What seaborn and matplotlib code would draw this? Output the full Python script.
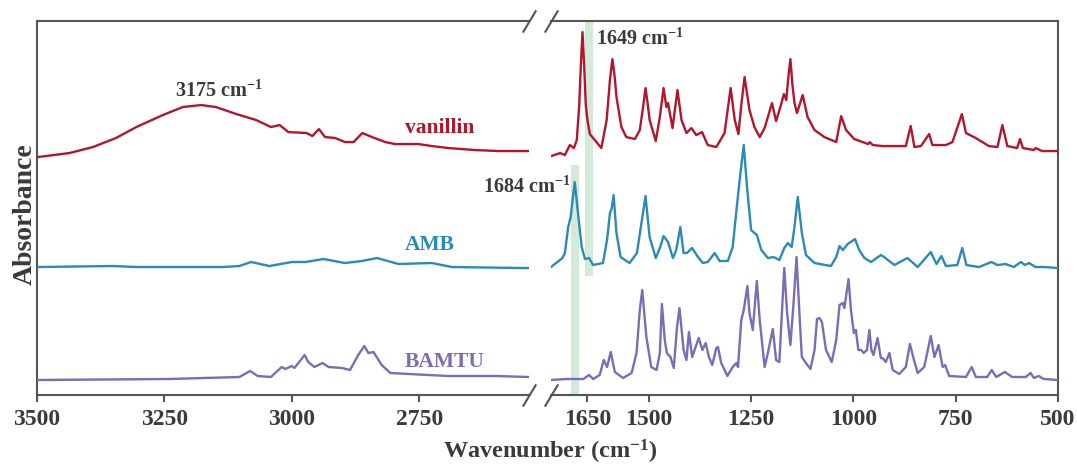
import matplotlib
matplotlib.use("Agg")
import matplotlib.pyplot as plt
import numpy as np
import pandas as pd
import seaborn as sns

# ---------------- data ----------------
samples = ["vanillin", "AMB", "BAMTU"]
colors = {"vanillin": "#B3162C", "AMB": "#2A8BB6", "BAMTU": "#7B6CB8"}
offsets = {"vanillin": 2.45, "AMB": 1.28, "BAMTU": 0.15}

vanillin_wn = [3498, 3436, 3390, 3345, 3305, 3253, 3214, 3178, 3149, 3109, 3083, 3070,
               3041, 3024, 3007, 2971, 2960, 2947, 2935, 2915, 2896, 2879, 2862, 2843,
               2817, 2798, 2752, 2726, 2693, 2641, 2595, 2536,
               1738, 1717, 1705, 1693, 1683, 1676, 1670, 1666, 1662, 1658, 1654, 1650,
               1644, 1632, 1616, 1603, 1595, 1589, 1583, 1579, 1567, 1555, 1534, 1522, 1514, 1508, 1503, 1498,
               1483, 1473, 1464, 1457, 1453, 1442, 1430, 1420, 1408, 1396, 1384, 1370,
               1356, 1335, 1315, 1300, 1290, 1281, 1274, 1266, 1254, 1242, 1229, 1217, 1199,
               1189, 1177, 1170, 1164, 1159, 1154, 1149, 1144, 1138, 1124, 1112, 1095, 1071, 1042,
               1030, 1018, 998, 964, 960, 953, 929, 872, 860, 851, 835, 815, 807, 774,
               758, 735, 725, 701, 669, 648, 636, 624, 600, 593, 586, 559, 555, 539, 500]
vanillin_abs = [-0.07, -0.03, 0.03, 0.12, 0.23, 0.35, 0.43, 0.45, 0.43, 0.36, 0.32, 0.30,
                0.23, 0.25, 0.18, 0.17, 0.14, 0.21, 0.13, 0.12, 0.08, 0.08, 0.17, 0.13,
                0.08, 0.06, 0.06, 0.04, 0.02, 0.00, -0.01, -0.01,
                -0.06, -0.03, -0.05, 0.05, 0.02, 0.10, 0.45, 0.85, 1.18, 0.85, 0.45, 0.30,
                0.16, 0.10, 0.02, 0.30, 0.70, 0.91, 0.72, 0.53, 0.23, 0.13, 0.11, 0.20, 0.43, 0.62, 0.47, 0.30,
                0.09, 0.33, 0.62, 0.43, 0.47, 0.22, 0.60, 0.30, 0.17, 0.22, 0.15, 0.18,
                0.05, 0.03, 0.17, 0.62, 0.30, 0.16, 0.45, 0.73, 0.40, 0.23, 0.13, 0.22, 0.47,
                0.29, 0.45, 0.56, 0.50, 0.73, 0.91, 0.65, 0.47, 0.37, 0.55, 0.33, 0.20, 0.13, 0.08,
                0.34, 0.20, 0.11, 0.06, 0.08, 0.05, 0.04, 0.04, 0.24, 0.03, 0.04, 0.16, 0.05, 0.05,
                0.08, 0.36, 0.17, 0.12, 0.04, 0.03, 0.25, 0.04, 0.02, 0.11, 0.02, 0.00, 0.02, -0.01, -0.01]

amb_wn = [3498, 3351, 3305, 3135, 3103, 3080, 3044, 3033, 3000, 2974, 2938, 2896, 2863,
          2833, 2791, 2726, 2686, 2552, 2536,
          1739, 1711, 1705, 1697, 1691, 1681, 1673, 1664, 1656, 1646, 1636, 1612, 1602,
          1595, 1591, 1586, 1579, 1569, 1547, 1529, 1508, 1498, 1483, 1472, 1464, 1453,
          1441, 1433, 1423, 1415, 1407, 1394, 1380, 1368, 1356, 1339, 1327, 1307, 1295,
          1284, 1278, 1268, 1260, 1250, 1236, 1225, 1209, 1195, 1181, 1169, 1160, 1151,
          1144, 1136, 1126, 1116, 1095, 1055, 1042, 1034, 1026, 1014, 996, 986, 973, 957,
          933, 925, 900, 868, 843, 811, 797, 785, 774, 746, 734, 724, 693, 663, 648, 628,
          608, 591, 581, 571, 555, 534, 500]
amb_abs = [0.00, 0.01, 0.00, 0.00, 0.01, 0.05, 0.01, 0.02, 0.05, 0.05, 0.08, 0.04, 0.06,
           0.09, 0.03, 0.04, 0.00, -0.01, -0.01,
           0.00, 0.09, 0.14, 0.40, 0.50, 0.85, 0.54, 0.20, 0.08, 0.09, 0.02, 0.04, 0.27,
           0.54, 0.58, 0.72, 0.34, 0.10, 0.04, 0.14, 0.71, 0.30, 0.09, 0.20, 0.31, 0.25,
           0.09, 0.17, 0.40, 0.14, 0.14, 0.19, 0.10, 0.04, 0.05, 0.14, 0.06, 0.06, 0.20,
           0.64, 0.87, 1.22, 0.80, 0.37, 0.32, 0.17, 0.09, 0.10, 0.07, 0.19, 0.24, 0.20,
           0.40, 0.70, 0.34, 0.12, 0.04, 0.01, 0.10, 0.21, 0.17, 0.23, 0.28, 0.17, 0.09, 0.05,
           0.12, 0.10, 0.02, 0.09, 0.00, 0.15, 0.03, 0.11, 0.01, 0.02, 0.19, 0.02, 0.00, 0.05, 0.02, 0.03,
           0.00, 0.05, 0.02, 0.04, 0.00, 0.00, -0.01]

bamtu_wn = [3498, 3240, 3103, 3082, 3067, 3041, 3020, 3013, 3000, 2995, 2975, 2968, 2956,
            2940, 2928, 2902, 2886, 2870, 2858, 2850, 2840, 2824, 2807, 2771, 2693, 2601, 2536,
            1739, 1701, 1660, 1646, 1636, 1620, 1610, 1602, 1593, 1583, 1563, 1542, 1530,
            1522, 1516, 1506, 1494, 1481, 1473, 1468, 1461, 1456, 1447, 1439, 1431, 1425,
            1415, 1408, 1402, 1394, 1378, 1369, 1361, 1353, 1345, 1335, 1331, 1323, 1308,
            1295, 1286, 1282, 1274, 1268, 1259, 1254, 1246, 1236, 1229, 1217, 1209, 1197,
            1189, 1181, 1174, 1169, 1162, 1154, 1147, 1139, 1132, 1126, 1116, 1105, 1095,
            1089, 1083, 1077, 1067, 1053, 1042, 1034, 1026, 1022, 1012, 1006, 999, 994, 988,
            981, 975, 967, 961, 956, 951, 941, 933, 929, 921, 912, 904, 888, 872, 862, 854,
            843, 827, 811, 802, 792, 782, 776, 766, 725, 711, 701, 673, 662, 651, 630, 612,
            579, 567, 559, 547, 535, 500]
bamtu_abs = [0.00, 0.01, 0.03, 0.09, 0.04, 0.03, 0.13, 0.11, 0.14, 0.12, 0.25, 0.18, 0.13,
             0.17, 0.13, 0.12, 0.10, 0.25, 0.34, 0.27, 0.28, 0.15, 0.07, 0.06, 0.04, 0.04, 0.03,
             0.00, 0.01, 0.01, 0.05, 0.01, 0.05, 0.20, 0.13, 0.28, 0.08, 0.02, 0.07, 0.27,
             0.70, 0.90, 0.43, 0.13, 0.10, 0.27, 0.76, 0.40, 0.27, 0.23, 0.12, 0.53, 0.72,
             0.30, 0.20, 0.48, 0.23, 0.42, 0.30, 0.37, 0.23, 0.15, 0.32, 0.33, 0.17, 0.04,
             0.13, 0.17, 0.13, 0.60, 0.70, 0.94, 0.67, 0.50, 0.99, 0.60, 0.13, 0.27, 0.51,
             0.20, 0.18, 0.73, 1.12, 0.67, 0.35, 0.73, 1.23, 0.67, 0.23, 0.17, 0.11, 0.30,
             0.61, 0.62, 0.58, 0.30, 0.18, 0.40, 0.75, 0.77, 0.72, 1.01, 0.70, 0.47, 0.50, 0.30,
             0.30, 0.27, 0.30, 0.50, 0.30, 0.25, 0.42, 0.22, 0.22, 0.18, 0.27, 0.10, 0.06, 0.13, 0.36, 0.23,
             0.07, 0.13, 0.44, 0.23, 0.35, 0.13, 0.15, 0.04, 0.03, 0.13, 0.03, 0.03, 0.10, 0.03, 0.08, 0.03,
             0.03, 0.07, 0.02, 0.04, 0.01, 0.00]

left_ticks = [3500, 3250, 3000, 2750]
right_ticks = [1650, 1500, 1250, 1000, 750, 500]
left_range = (3500, 2536)
right_range = (1739, 500)

band_1649 = (1656, 1636)
band_1684 = (1691, 1670)

# ---------------- build table ----------------
frames = []
for name, wn, ab in [("vanillin", vanillin_wn, vanillin_abs),
                     ("AMB", amb_wn, amb_abs),
                     ("BAMTU", bamtu_wn, bamtu_abs)]:
    f = pd.DataFrame({"wn": wn, "abs": ab})
    f["sample"] = name
    f["stacked"] = f["abs"] + offsets[name]
    frames.append(f)
df = pd.concat(frames, ignore_index=True)

# ---------------- style ----------------
sns.set_theme(style="white")
plt.rcParams["font.family"] = ["Liberation Serif", "DejaVu Serif"]
plt.rcParams["font.weight"] = "bold"
plt.rcParams["mathtext.fontset"] = "custom"
plt.rcParams["mathtext.rm"] = "Liberation Serif:bold"
plt.rcParams["mathtext.it"] = "Liberation Serif:bold"
plt.rcParams["mathtext.bf"] = "Liberation Serif:bold"
plt.rcParams["mathtext.default"] = "rm"

spine_c = "#555555"
text_c = "#3a3a3a"

fig = plt.figure(figsize=(10.77, 4.68), dpi=100)
axL = fig.add_axes([0.0342, 0.156, 0.4566, 0.799])
axR = fig.add_axes([0.5116, 0.156, 0.4708, 0.799])
axR.patch.set_visible(False)

for ax, (hi, lo), ticks in [(axL, left_range, left_ticks), (axR, right_range, right_ticks)]:
    sub = df[(df["wn"] <= hi) & (df["wn"] >= lo)]
    sns.lineplot(data=sub, x="wn", y="stacked", hue="sample", hue_order=samples,
                 palette=colors, estimator=None, legend=False, linewidth=1.7,
                 ax=ax, zorder=3)
    ax.set_xlim(hi, lo)
    ax.set_ylim(0, 3.74)
    ax.set_xticks(ticks)
    ax.set_xticklabels([str(t) for t in ticks])
    ax.set_yticks([])
    ax.set_xlabel("")
    ax.set_ylabel("")
    ax.tick_params(axis="x", bottom=True, direction="out", length=5, width=1.5,
                   color=spine_c, labelsize=17, labelcolor=text_c, pad=5)
    for s in ax.spines.values():
        s.set_color(spine_c)
        s.set_linewidth(1.5)

axL.spines["right"].set_visible(False)
axR.spines["left"].set_visible(False)

# shaded bands
axR.fill_betweenx([1.19, 3.74], band_1649[0], band_1649[1], color="#d3ead8", lw=0, zorder=1)
axR.fill_betweenx([0.0, 2.30], band_1684[0], band_1684[1], color="#d3ead8", lw=0, zorder=1)

# break marks
kw = dict(marker=[(-0.6, -1), (0.6, 1)], markersize=16, linestyle="none",
          color=spine_c, mec=spine_c, mew=1.5, clip_on=False)
axL.plot([1, 1], [0, 1], transform=axL.transAxes, **kw)
axR.plot([0, 0], [0, 1], transform=axR.transAxes, **kw)

# labels
for name, y in [("vanillin", 2.62), ("AMB", 1.45), ("BAMTU", 0.28)]:
    axL.text(2778, y, name, color=colors[name], fontsize=15.5, fontweight="bold",
             ha="left", va="baseline")

axL.text(3143, 2.98, r"3175 cm$^{-1}$", color=text_c, fontsize=14.5, ha="center", va="baseline")
axL.text(2625, 2.02, r"1684 cm$^{-1}$", color=text_c, fontsize=14.5, ha="left", va="baseline",
         clip_on=False, zorder=10)
axR.text(1628, 3.50, r"1649 cm$^{-1}$", color=text_c, fontsize=14.5, ha="left", va="baseline")

fig.text(0.511, 0.034, r"Wavenumber (cm$^{-1}$)", ha="center", va="center",
         fontsize=17.5, color=text_c)
fig.text(0.023, 0.543, "Absorbance", ha="center", va="center", rotation=90,
         fontsize=20, color=text_c)

fig.savefig("out.png", dpi=100, facecolor="white")
